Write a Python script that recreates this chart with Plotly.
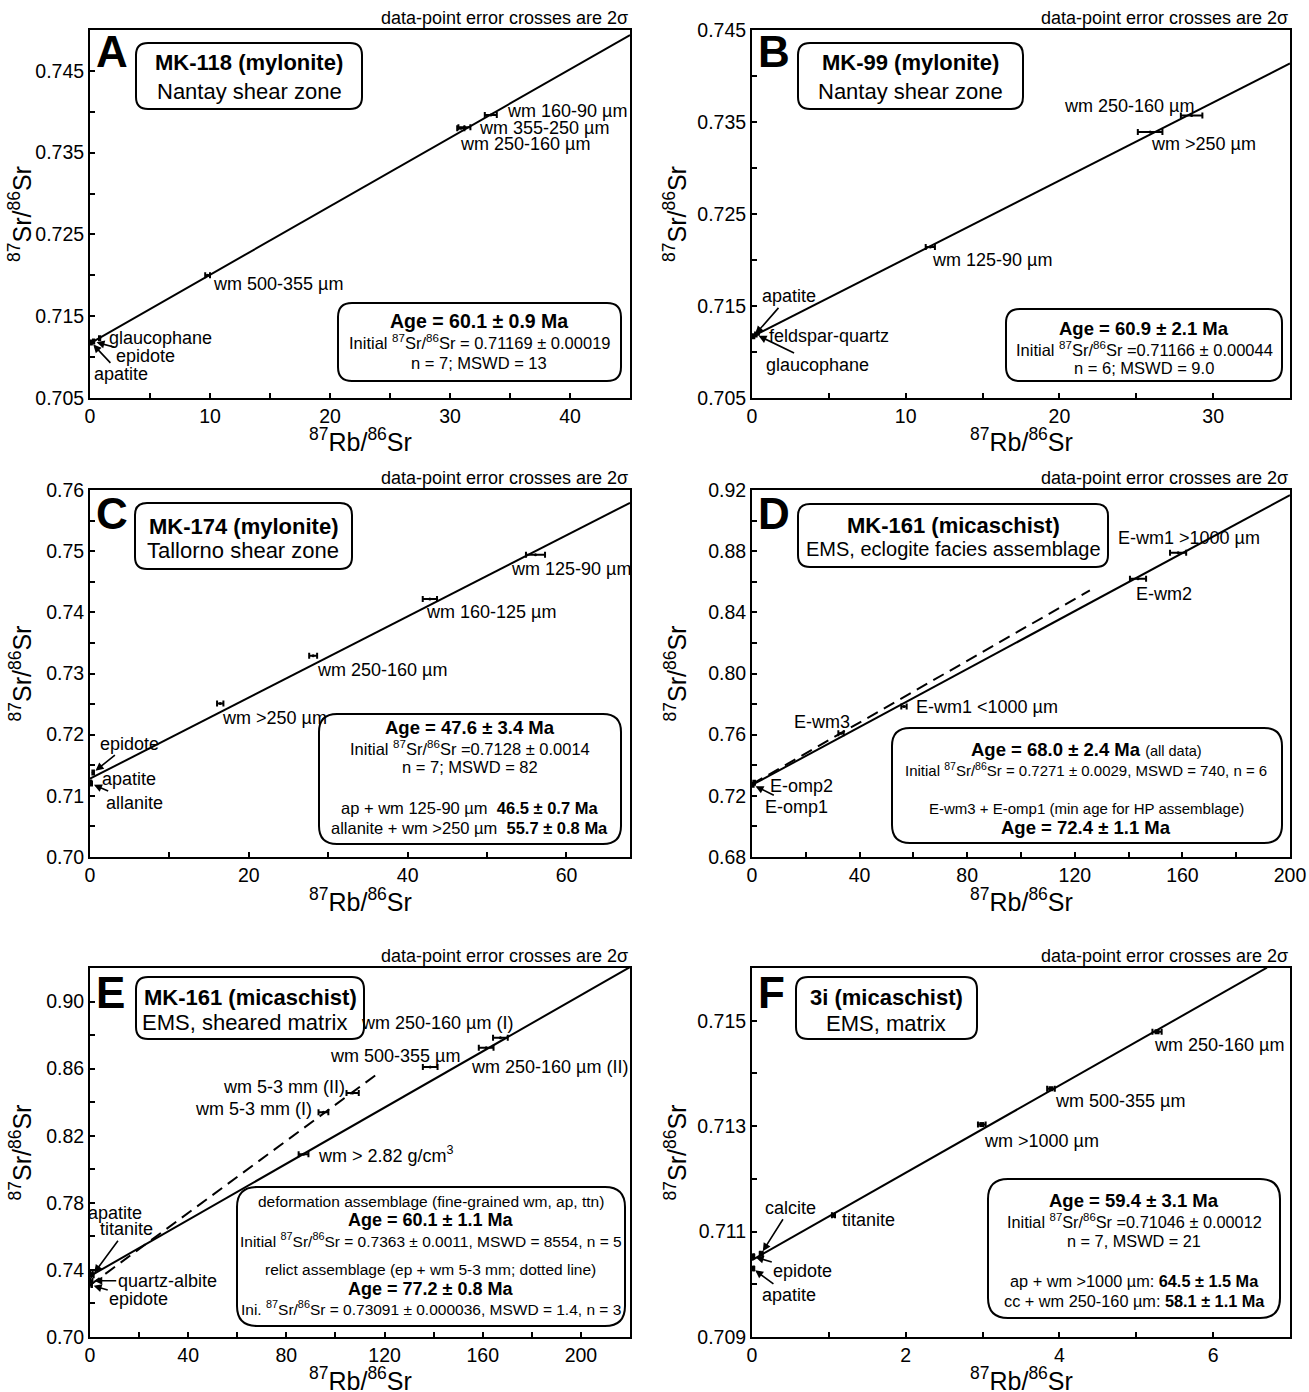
import math
import plotly.graph_objects as go

W, H = 1309, 1392
FONT = "Liberation Sans, Arial, Helvetica, sans-serif"
LAMBDA = 1.393e-11  # 87Rb decay constant (1/yr)

# ---------------- data ----------------
# Panel A  MK-118
A_names = ["apatite", "epidote", "glaucophane", "wm 500-355 µm", "wm 250-160 µm", "wm 355-250 µm", "wm 160-90 µm"]
A_rb = [0.1, 0.3, 0.8, 9.8, 30.9, 31.2, 33.4]
A_sr = [0.7118, 0.7119, 0.7123, 0.7200, 0.7380, 0.7381, 0.7396]
A_rb_err = [0.05, 0.05, 0.05, 0.2, 0.3, 0.5, 0.5]
A_age, A_init, A_xend = 60.1, 0.71169, 45

# Panel B  MK-99
B_names = ["apatite", "glaucophane", "feldspar-quartz", "wm 125-90 µm", "wm >250 µm", "wm 250-160 µm"]
B_rb = [0.1, 0.25, 0.4, 11.6, 25.9, 28.6]
B_sr = [0.7117, 0.7119, 0.7121, 0.7214, 0.7339, 0.7357]
B_rb_err = [0.05, 0.05, 0.05, 0.3, 0.8, 0.7]
B_age, B_init, B_xend = 60.9, 0.71166, 35

# Panel C  MK-174
C_names = ["epidote", "apatite", "allanite", "wm >250 µm", "wm 250-160 µm", "wm 160-125 µm", "wm 125-90 µm"]
C_rb = [0.4, 0.05, 0.15, 16.4, 28.1, 42.8, 56.1]
C_sr = [0.7138, 0.7122, 0.7120, 0.7251, 0.7329, 0.7422, 0.7494]
C_rb_err = [0.1, 0.1, 0.1, 0.4, 0.5, 0.9, 1.2]
C_age, C_init, C_xend = 47.6, 0.7128, 68

# Panel D  MK-161 eclogite facies
D_names = ["E-omp1", "E-omp2", "E-wm3", "E-wm1 <1000 µm", "E-wm2", "E-wm1 >1000 µm"]
D_rb = [0.3, 0.8, 33.1, 56.5, 143.5, 158.4]
D_sr = [0.7272, 0.7285, 0.7610, 0.7784, 0.8620, 0.8790]
D_rb_err = [0.3, 0.3, 1.0, 1.0, 3.0, 3.0]
D_age, D_init, D_xend = 68.0, 0.7271, 200
D_hp_age, D_hp_init, D_hp_xend = 72.4, 0.7276, 125.6

# Panel E  MK-161 sheared matrix
E_names = ["apatite", "titanite", "quartz-albite", "epidote", "wm > 2.82 g/cm<sup>3</sup>",
           "wm 5-3 mm (I)", "wm 5-3 mm (II)", "wm 500-355 µm", "wm 250-160 µm (II)", "wm 250-160 µm (I)"]
E_rb = [0.6, 1.0, 0.5, 0.3, 87.0, 95.1, 107.0, 138.6, 161.4, 167.2]
E_sr = [0.7375, 0.7368, 0.7335, 0.7310, 0.8090, 0.8340, 0.8455, 0.8610, 0.8725, 0.8784]
E_rb_err = [0.5, 0.5, 0.5, 0.5, 2.0, 2.0, 2.5, 3.0, 3.0, 3.0]
E_age, E_init, E_xend = 60.1, 0.7363, 220
E_rel_age, E_rel_init, E_rel_xend = 77.2, 0.73091, 117

# Panel F  3i
F_names = ["epidote", "calcite", "apatite", "titanite", "wm >1000 µm", "wm 500-355 µm", "wm 250-160 µm"]
F_rb = [0.01, 0.12, 0.01, 1.06, 2.99, 3.89, 5.27]
F_sr = [0.71053, 0.71058, 0.71030, 0.71131, 0.71303, 0.71371, 0.71479]
F_rb_err = [0.015, 0.015, 0.015, 0.02, 0.05, 0.05, 0.06]
F_age, F_init, F_xend = 59.4, 0.71046, 6.70

# ---------------- layout helpers ----------------
COLS = [(90, 630), (752, 1290)]
ROWS = [(30, 398), (490, 857), (968, 1337)]
YTITLE_X = [20, 675]
XTITLE_Y = [440, 900, 1379]

S_TICK, S_AXT, S_TITLE, S_LAB, S_NOTE, S_LET = 19.5, 25, 22, 18, 18, 44


def PX(p):
    return p / W


def PY(p):
    return 1 - p / H


def slope(age_ma):
    return math.exp(LAMBDA * age_ma * 1e6) - 1


fig = go.Figure()
shapes = []
annotations = []


def rbox(x0, y0, x1, y1, r):
    rx, ry = r / W, r / H
    a0, a1 = PX(x0), PX(x1)
    b0, b1 = PY(y0), PY(y1)  # b0 top, b1 bottom
    path = (f"M{a0+rx},{b0} L{a1-rx},{b0} Q{a1},{b0} {a1},{b0-ry} "
            f"L{a1},{b1+ry} Q{a1},{b1} {a1-rx},{b1} L{a0+rx},{b1} "
            f"Q{a0},{b1} {a0},{b1+ry} L{a0},{b0-ry} Q{a0},{b0} {a0+rx},{b0} Z")
    shapes.append(dict(type="path", path=path, xref="paper", yref="paper",
                       line=dict(color="black", width=2), fillcolor="white", layer="above"))


def ptext(x, y, txt, size, bold=False, xanchor="center", angle=0):
    t = f"<b>{txt}</b>" if bold else txt
    annotations.append(dict(x=PX(x), y=PY(y), xref="paper", yref="paper", text=t,
                            showarrow=False, xanchor=xanchor, yanchor="middle",
                            textangle=angle,
                            font=dict(family=FONT, size=size, color="black")))


def add_panel(idx, rb, sr, err, lines, square=False):
    xa = "x" if idx == 1 else f"x{idx}"
    ya = "y" if idx == 1 else f"y{idx}"
    for (xs, ys, dash) in lines:
        fig.add_trace(go.Scatter(x=xs, y=ys, mode="lines", xaxis=xa, yaxis=ya,
                                 line=dict(color="black", width=2, dash=dash),
                                 showlegend=False, hoverinfo="skip"))
    fig.add_trace(go.Scatter(x=rb, y=sr, mode="markers", xaxis=xa, yaxis=ya,
                             marker=dict(color="black", size=5 if square else 3,
                                         symbol="square" if square else "circle"),
                             error_x=dict(type="data", array=err, color="black",
                                          thickness=2, width=3),
                             showlegend=False))


def label(idx, x, y, txt, dx=0, dy=0, xanchor="left", arrow=False, size=S_LAB):
    xa = "x" if idx == 1 else f"x{idx}"
    ya = "y" if idx == 1 else f"y{idx}"
    if arrow:
        annotations.append(dict(x=x, y=y, xref=xa, yref=ya, text=txt, showarrow=True,
                                ax=dx, ay=dy, arrowhead=2, arrowsize=1, arrowwidth=1.6,
                                arrowcolor="black", standoff=3,
                                font=dict(family=FONT, size=size, color="black")))
    else:
        annotations.append(dict(x=x, y=y, xref=xa, yref=ya, text=txt, showarrow=False,
                                xanchor=xanchor, yanchor="middle", xshift=dx, yshift=dy,
                                font=dict(family=FONT, size=size, color="black")))


def iso(init, age, xend):
    xs = [0, xend]
    return xs, [init + slope(age) * x for x in xs]


DASH = "12px,7px"

# ---------------- traces ----------------
add_panel(1, A_rb, A_sr, A_rb_err, [(*iso(A_init, A_age, A_xend), "solid")])
add_panel(2, B_rb, B_sr, B_rb_err, [(*iso(B_init, B_age, B_xend), "solid")])
add_panel(3, C_rb, C_sr, C_rb_err, [(*iso(C_init, C_age, C_xend), "solid")])
add_panel(4, D_rb, D_sr, D_rb_err, [(*iso(D_init, D_age, D_xend), "solid"),
                                    (*iso(D_hp_init, D_hp_age, D_hp_xend), DASH)])
add_panel(5, E_rb, E_sr, E_rb_err, [(*iso(E_init, E_age, E_xend), "solid"),
                                    (*iso(E_rel_init, E_rel_age, E_rel_xend), DASH)])
add_panel(6, F_rb, F_sr, F_rb_err, [(*iso(F_init, F_age, F_xend), "solid")], square=True)

# ---------------- point labels ----------------
# A
label(1, A_rb[0], A_sr[0], "apatite", 30, 32, arrow=True)
label(1, A_rb[1], A_sr[1], "epidote", 52, 14, arrow=True)
label(1, A_rb[2], A_sr[2], "glaucophane", 7, 0)
label(1, A_rb[3], A_sr[3], A_names[3], 3, -9)
label(1, A_rb[4], A_sr[4], A_names[4], -3, -16)
label(1, A_rb[5], A_sr[5], A_names[5], 13, -1)
label(1, A_rb[6], A_sr[6], A_names[6], 14, 4)
# B
label(2, B_rb[0], B_sr[0], "apatite", 35, -40, arrow=True)
label(2, B_rb[1], B_sr[1], "glaucophane", 62, 30, arrow=True)
label(2, B_rb[2], B_sr[2], "feldspar-quartz", 9, -3)
label(2, B_rb[3], B_sr[3], B_names[3], 0, -13)
label(2, B_rb[4], B_sr[4], B_names[4], -1, -12)
label(2, B_rb[5], B_sr[5], B_names[5], 4, 10, xanchor="right")
# C
label(3, C_rb[0], C_sr[0], "epidote", 36, -29, arrow=True)
label(3, C_rb[1], C_sr[1], "apatite", 10, 3)
label(3, C_rb[2], C_sr[2], "allanite", 43, 19, arrow=True)
label(3, C_rb[3], C_sr[3], C_names[3], 0, -15)
label(3, C_rb[4], C_sr[4], C_names[4], 2, -14)
label(3, C_rb[5], C_sr[5], C_names[5], -6, -13)
label(3, C_rb[6], C_sr[6], C_names[6], -27, -14)
# D
label(4, D_rb[0], D_sr[0], "E-omp1", 44, 22, arrow=True)
label(4, D_rb[1], D_sr[1], "E-omp2", 14, -3)
label(4, D_rb[2], D_sr[2], "E-wm3", 11, 11, xanchor="right")
label(4, D_rb[3], D_sr[3], D_names[3], 10, 0)
label(4, D_rb[4], D_sr[4], D_names[4], -4, -15)
label(4, D_rb[5], D_sr[5], D_names[5], -62, 15)
# E
label(5, E_rb[0], E_sr[0], "apatite", 24, 61, xanchor="center")
label(5, E_rb[1], E_sr[1], "titanite", 34, -46, arrow=True)
label(5, E_rb[2], E_sr[2], "quartz-albite", 76, 0, arrow=True)
label(5, E_rb[3], E_sr[3], "epidote", 48, 14, arrow=True)
label(5, E_rb[4], E_sr[4], E_names[4], 12, 0)
label(5, E_rb[5], E_sr[5], E_names[5], -9, 3, xanchor="right")
label(5, E_rb[6], E_sr[6], E_names[6], -6, 6, xanchor="right")
label(5, E_rb[7], E_sr[7], E_names[7], 32, 11, xanchor="right")
label(5, E_rb[8], E_sr[8], E_names[8], -17, -19)
label(5, E_rb[9], E_sr[9], E_names[9], 15, 15, xanchor="right")
# F
label(6, F_rb[0], F_sr[0], "epidote", 50, 15, arrow=True)
label(6, F_rb[1], F_sr[1], "calcite", 29, -46, arrow=True)
label(6, F_rb[2], F_sr[2], "apatite", 36, 27, arrow=True)
label(6, F_rb[3], F_sr[3], "titanite", 7, -5)
label(6, F_rb[4], F_sr[4], F_names[4], 0, -16)
label(6, F_rb[5], F_sr[5], F_names[5], 2, -12)
label(6, F_rb[6], F_sr[6], F_names[6], -5, -13)

# ---------------- axes ----------------
AX = [
    # (xrange, xdtick, xminor, yrange, ytick0, ydtick, yminor, yfmt)
    ([0, 45], 10, 5, [0.705, 0.750], 0.705, 0.01, 0.005, ".3f"),
    ([0, 35], 10, 5, [0.705, 0.745], 0.705, 0.01, 0.005, ".3f"),
    ([0, 68], 20, 10, [0.70, 0.76], 0.70, 0.01, 0.005, ".2f"),
    ([0, 200], 40, 20, [0.68, 0.92], 0.68, 0.04, 0.02, ".2f"),
    ([0, 220], 40, 20, [0.70, 0.92], 0.70, 0.04, 0.02, ".2f"),
    ([0, 7], 2, 1, [0.709, 0.716], 0.709, 0.002, 0.001, ".3f"),
]
layout_axes = {}
for i, (xr, xd, xm, yr, yt0, yd, ym, yf) in enumerate(AX):
    n = i + 1
    r, c = divmod(i, 2)
    cx, ry = COLS[c], ROWS[r]
    xk = "xaxis" if n == 1 else f"xaxis{n}"
    yk = "yaxis" if n == 1 else f"yaxis{n}"
    common = dict(showgrid=False, zeroline=False, showline=True, mirror=True,
                  linecolor="black", linewidth=2, ticks="inside", ticklen=5,
                  tickwidth=1.5, tickcolor="black", automargin=False,
                  tickfont=dict(family=FONT, size=S_TICK, color="black"))
    layout_axes[xk] = dict(common, domain=[PX(cx[0]), PX(cx[1])], range=xr,
                           anchor="y" if n == 1 else f"y{n}", tick0=0, dtick=xd,
                           minor=dict(tick0=0, dtick=xm, ticks="inside", ticklen=5,
                                      tickwidth=1.5, tickcolor="black"))
    layout_axes[yk] = dict(common, domain=[PY(ry[1]), PY(ry[0])], range=yr,
                           anchor="x" if n == 1 else f"x{n}", tick0=yt0, dtick=yd,
                           tickformat=yf,
                           minor=dict(tick0=yt0, dtick=ym, ticks="inside", ticklen=5,
                                      tickwidth=1.5, tickcolor="black"))
    # axis titles
    ptext((cx[0] + cx[1]) / 2, XTITLE_Y[r], "<sup>87</sup>Rb/<sup>86</sup>Sr", S_AXT)
    ptext(YTITLE_X[c], (ry[0] + ry[1]) / 2, "<sup>87</sup>Sr/<sup>86</sup>Sr", S_AXT, angle=-90)
    # note above plot
    annotations.append(dict(xref=f"{'x' if n == 1 else 'x' + str(n)} domain",
                            yref=f"{'y' if n == 1 else 'y' + str(n)} domain",
                            x=1, y=1, xanchor="right", yanchor="bottom", showarrow=False,
                            text="data-point error crosses are 2σ",
                            font=dict(family=FONT, size=S_NOTE, color="black")))

# ---------------- panel letters ----------------
for L, (x, y) in zip("ABCDEF", [(94, 52), (756, 52), (94, 514), (756, 514), (94, 992), (756, 992)]):
    ptext(x, y, L, S_LET, bold=True, xanchor="left")

# ---------------- title boxes ----------------
rbox(136, 43, 362, 109, 12)
ptext(249, 63, "MK-118 (mylonite)", S_TITLE, bold=True)
ptext(249, 91, "Nantay shear zone", S_TITLE)

rbox(798, 43, 1023, 109, 12)
ptext(910, 63, "MK-99 (mylonite)", S_TITLE, bold=True)
ptext(910, 91, "Nantay shear zone", S_TITLE)

rbox(135, 503, 352, 569, 12)
ptext(243, 526, "MK-174 (mylonite)", S_TITLE, bold=True)
ptext(243, 550, "Tallorno shear zone", S_TITLE)

rbox(798, 504, 1108, 567, 12)
ptext(953, 525, "MK-161 (micaschist)", S_TITLE, bold=True)
ptext(953, 549, "EMS, eclogite facies assemblage", 20)

rbox(136, 977, 364, 1039, 12)
ptext(250, 997, "MK-161 (micaschist)", S_TITLE, bold=True)
ptext(244, 1022, "EMS, sheared matrix", S_TITLE)

rbox(796, 977, 977, 1039, 12)
ptext(886, 997, "3i (micaschist)", S_TITLE, bold=True)
ptext(886, 1023, "EMS, matrix", S_TITLE)

# ---------------- info boxes ----------------
SR = "<sup>87</sup>Sr/<sup>86</sup>Sr"
NB = "\u00a0"

rbox(338, 303, 621, 381, 14)
ptext(479, 321, "Age = 60.1 ± 0.9 Ma", 19.5, bold=True)
ptext(479, 342, f"Initial {SR} = 0.71169 ± 0.00019", 16.5)
ptext(479, 363, "n = 7; MSWD = 13", 16.5)

rbox(1006, 309, 1282, 381, 14)
ptext(1144, 328, "Age = 60.9 ± 2.1 Ma", 18.5, bold=True)
ptext(1144, 349, f"Initial {SR} =0.71166 ± 0.00044", 16.5)
ptext(1144, 368, "n = 6; MSWD = 9.0", 16.5)

rbox(319, 714, 621, 844, 18)
ptext(470, 727, "Age = 47.6 ± 3.4 Ma", 18.5, bold=True)
ptext(470, 748, f"Initial {SR} =0.7128 ± 0.0014", 16.5)
ptext(470, 767, "n = 7; MSWD = 82", 16.5)
ptext(470, 808, f"ap + wm 125-90 µm{NB}{NB}<b>46.5 ± 0.7 Ma</b>", 16.5)
ptext(470, 828, f"allanite + wm >250 µm{NB}{NB}<b>55.7 ± 0.8 Ma</b>", 16.5)

rbox(892, 728, 1282, 843, 18)
ptext(1086, 749, "<b>Age = 68.0 ± 2.4 Ma</b> <span style='font-size:14.5px'>(all data)</span>", 18.5)
ptext(1086, 770, f"Initial {SR} = 0.7271 ± 0.0029, MSWD = 740, n = 6", 15)
ptext(1086, 808, "E-wm3 + E-omp1 (min age for HP assemblage)", 15)
ptext(1086, 827, "Age = 72.4 ± 1.1 Ma", 18.5, bold=True)

rbox(237, 1187, 625, 1326, 20)
ptext(431, 1201, "deformation assemblage (fine-grained wm, ap, ttn)", 15.5)
ptext(431, 1220, "Age = 60.1 ± 1.1 Ma", 18, bold=True)
ptext(431, 1240, f"Initial {SR} = 0.7363 ± 0.0011, MSWD = 8554, n = 5", 15.5)
ptext(431, 1269, "relict assemblage (ep + wm 5-3 mm; dotted line)", 15.5)
ptext(431, 1289, "Age = 77.2 ± 0.8 Ma", 18, bold=True)
ptext(431, 1308, f"Ini. {SR} = 0.73091 ± 0.000036, MSWD = 1.4, n = 3", 15.5)

rbox(988, 1179, 1280, 1318, 20)
ptext(1134, 1200, "Age = 59.4 ± 3.1 Ma", 18.5, bold=True)
ptext(1134, 1221, f"Initial {SR} =0.71046 ± 0.00012", 16.3)
ptext(1134, 1241, "n = 7, MSWD = 21", 16.3)
ptext(1134, 1281, "ap + wm >1000 µm: <b>64.5 ± 1.5 Ma</b>", 16.3)
ptext(1134, 1301, "cc + wm 250-160 µm: <b>58.1 ± 1.1 Ma</b>", 16.3)

fig.update_layout(width=W, height=H,
                  margin=dict(l=0, r=0, t=0, b=0, pad=0, autoexpand=False),
                  paper_bgcolor="white", plot_bgcolor="white",
                  font=dict(family=FONT, color="black"),
                  showlegend=False, shapes=shapes, annotations=annotations,
                  **layout_axes)

fig.write_html("out.html", config={"displayModeBar": False},
               post_script="document.body.style.margin='0px';document.body.style.padding='0px';")
